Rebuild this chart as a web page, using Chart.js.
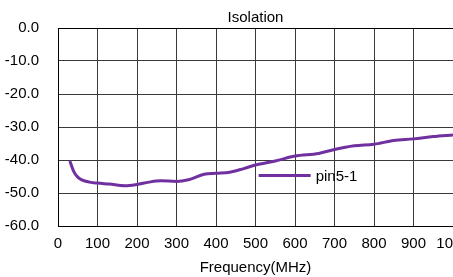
<!DOCTYPE html>
<html>
<head>
<meta charset="utf-8">
<script src="https://cdn.jsdelivr.net/npm/chart.js@4"></script>
<style>
  html, body { margin: 0; padding: 0; background: #fff; }
  #wrap { width: 453px; height: 277px; }
</style>
</head>
<body>
<div id="wrap"><canvas id="iso"></canvas></div>
<script>
// frequency in MHz, isolation in dB
const freqs = [30, 40, 50, 60, 80, 100, 130, 170, 200, 230, 260, 300, 330, 370, 400, 435, 470, 500, 550, 600, 660, 700, 750, 800, 850, 900, 950, 1000];
const pin51 = [-40.3, -43.5, -45.2, -46.0, -46.7, -47.0, -47.3, -47.8, -47.4, -46.7, -46.3, -46.5, -46.0, -44.3, -44.0, -43.7, -42.6, -41.5, -40.3, -38.8, -38.0, -36.8, -35.7, -35.2, -34.1, -33.6, -32.9, -32.4];
const seriesName = 'pin5-1';
const yTicks = [0, -10, -20, -30, -40, -50, -60];
const xTicks = [0, 100, 200, 300, 400, 500, 600, 700, 800, 900, 1000];

const lineColor = '#7030A0';
const font = { family: '"Liberation Sans", Arial, sans-serif', size: 15 };

// black frame round the plot, legend inside it, clipped label at right edge
const extras = {
  id: 'extras',
  afterDraw(chart) {
    const { ctx, chartArea: a } = chart;
    ctx.save();
    ctx.strokeStyle = '#000';
    ctx.lineWidth = 1;
    ctx.strokeRect(Math.round(a.left) + 0.5, Math.round(a.top) + 0.5,
                   Math.round(a.right - a.left), Math.round(a.bottom - a.top));

    // legend
    const lx = a.left + (a.right - a.left) * 0.508;
    const ly = a.top + (a.bottom - a.top) * 0.745;
    ctx.strokeStyle = lineColor;
    ctx.lineWidth = 3;
    ctx.beginPath();
    ctx.moveTo(lx, ly);
    ctx.lineTo(lx + 52, ly);
    ctx.stroke();
    ctx.fillStyle = '#000';
    ctx.font = font.size + 'px ' + font.family;
    ctx.textBaseline = 'middle';
    ctx.fillText(seriesName, lx + 57, ly + 1);

    // partly hidden label beyond the right edge
    ctx.beginPath();
    ctx.rect(a.right + 2, a.top + 90, 20, 8);
    ctx.clip();
    ctx.textBaseline = 'top';
    ctx.fillText('5', a.right + 4, a.top + 91);
    ctx.restore();
  }
};

new Chart(document.getElementById('iso'), {
  type: 'line',
  data: {
    datasets: [{
      label: seriesName,
      data: freqs.map((f, i) => ({ x: f, y: pin51[i] })),
      borderColor: lineColor,
      borderWidth: 3,
      pointRadius: 0,
      cubicInterpolationMode: 'monotone',
      fill: false
    }]
  },
  options: {
    responsive: true,
    maintainAspectRatio: false,
    animation: false,
    layout: { padding: 0 },
    plugins: {
      legend: { display: false },
      tooltip: { enabled: false },
      title: {
        display: true,
        text: 'Isolation',
        color: '#000',
        font: { ...font, weight: 'normal' },
        fullSize: false,
        padding: { top: 9, bottom: 1 }
      }
    },
    scales: {
      x: {
        type: 'linear',
        min: 0,
        max: 1000,
        afterBuildTicks: s => { s.ticks = xTicks.map(v => ({ value: v })); },
        afterFit: s => { s.paddingRight = 0; s.paddingLeft = 0; s.height = 51; },
        ticks: { color: '#000', font, padding: 9, maxRotation: 0, autoSkip: false, callback: v => String(v) },
        grid: { color: '#3a3a3a', drawTicks: false },
        border: { color: '#000' },
        title: {
          display: true,
          text: 'Frequency(MHz)',
          color: '#000',
          font,
          padding: { top: 0, bottom: 0 }
        }
      },
      y: {
        min: -60,
        max: 0,
        afterBuildTicks: s => { s.ticks = yTicks.map(v => ({ value: v })); },
        afterFit: s => { s.width = 58; },
        ticks: { color: '#000', font, padding: 19, callback: v => v.toFixed(1) },
        grid: { color: '#3a3a3a', drawTicks: false },
        border: { color: '#000' }
      }
    }
  },
  plugins: [extras]
});
</script>
</body>
</html>
